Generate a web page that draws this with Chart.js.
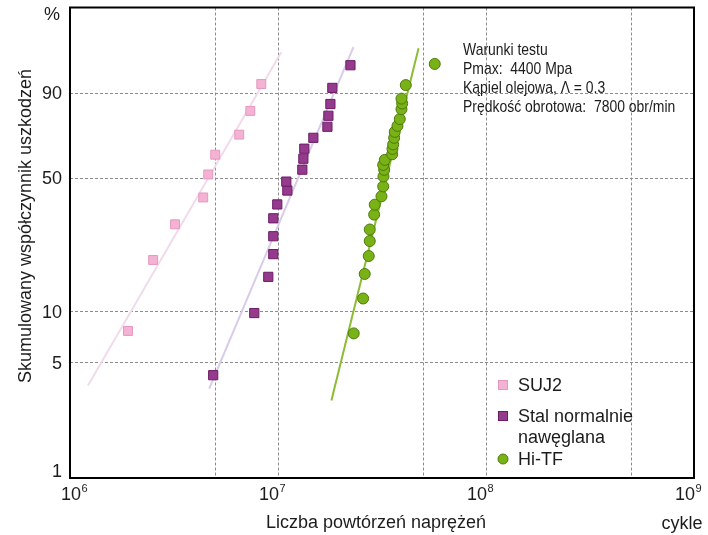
<!DOCTYPE html>
<html>
<head>
<meta charset="utf-8">
<script src="https://cdn.jsdelivr.net/npm/chart.js@4.4.1/dist/chart.umd.min.js"></script>
<style>
  html, body { margin: 0; padding: 0; background: #ffffff; }
  #wrap { width: 708px; height: 535px; position: relative; }
</style>
</head>
<body>
<div id="wrap"><canvas id="c" width="708" height="535"></canvas></div>
<script>
// ---- data (cycles to failure, cumulative failure %) ----
const suj2Cycles = [1.90e6, 2.51e6, 3.20e6, 4.37e6, 4.62e6, 4.99e6, 6.51e6, 7.36e6, 8.31e6];
const suj2Pct    = [7.7, 19.6, 30.3, 41.0, 51.8, 61.9, 72.2, 83.3, 92.7];

const carbCycles = [4.88e6, 7.69e6, 8.98e6, 9.49e6, 9.49e6, 9.49e6, 9.92e6, 1.109e7, 1.096e7,
                    1.309e7, 1.324e7, 1.338e7, 1.479e7, 1.728e7, 1.747e7, 1.786e7, 1.825e7, 2.23e7];
const carbPct    = [4.2, 9.8, 15.8, 21.1, 26.3, 32.5, 38.0, 44.1, 48.3,
                    54.2, 59.8, 65.0, 70.6, 76.1, 81.2, 86.1, 91.6, 96.7];

const hitfCycles = [2.312e7, 2.566e7, 2.612e7, 2.731e7, 2.761e7, 2.761e7, 2.899e7, 2.918e7, 3.144e7,
                    3.204e7, 3.214e7, 3.240e7, 3.204e7, 3.262e7, 3.539e7, 3.551e7, 3.578e7, 3.618e7,
                    3.642e7, 3.753e7, 3.85e7, 3.923e7, 3.954e7, 3.923e7, 4.115e7, 5.67e7];
const hitfPct    = [7.45, 11.9, 16.4, 20.6, 24.8, 28.5, 33.9, 37.9, 41.5,
                    46.0, 50.8, 54.1, 56.6, 59.2, 62.1, 64.9, 67.2, 70.6,
                    73.6, 76.5, 79.7, 84.0, 86.3, 88.1, 92.4, 96.9];

// Weibull fit lines (end points)
const suj2FitCycles = [1.22e6, 1.037e7];
const suj2FitPct    = [3.64, 98.34];
const carbFitCycles = [4.67e6, 2.305e7];
const carbFitPct    = [3.49, 98.77];
const hitfFitCycles = [1.806e7, 4.74e7];
const hitfFitPct    = [2.96, 98.69];

// axis ticks
const xTickValues = [1e6, 5e6, 1e7, 5e7, 1e8, 5e8, 1e9];
const xLabelExps  = [6, 7, 8, 9];
const yTickPct    = [1, 5, 10, 50, 90];
const yMinPct = 1, yMaxPct = 99.955;

const seriesNames = ['SUJ2', 'Stal normalnie nawęglana', 'Hi-TF'];
const annotationLines = ['Warunki testu', 'Pmax:  4400 Mpa', 'Kąpiel olejowa, \u039B = 0.3', 'Prędkość obrotowa:  7800 obr/min'];
const xTitle = 'Liczba powtórzeń naprężeń';
const xUnit = 'cykle';
const yTitle = 'Skumulowany współczynnik uszkodzeń';

// Weibull probability transform
const weib = p => Math.log(-Math.log(1 - p / 100));
const pts = (xs, ps) => xs.map((x, i) => ({ x: x, y: weib(ps[i]) }));

const FONT = '"Liberation Sans", Arial, sans-serif';
const TXT = '#1c1c1c';

const col = {
  suj2: { fill: '#f4b3d3', border: '#e697c0', line: '#f1dbeb' },
  carb: { fill: '#963a8e', border: '#6a1d66', line: '#d9cbe9' },
  hitf: { fill: '#79b216', border: '#4d7a0a', line: '#8cbc35' }
};

const textPlugin = {
  id: 'textPlugin',
  afterDraw(chart) {
    const ctx = chart.ctx;
    const a = chart.chartArea;
    const xs = chart.scales.x, ys = chart.scales.y;
    ctx.save();
    // frame
    ctx.strokeStyle = '#000';
    ctx.lineWidth = 2;
    ctx.strokeRect(a.left, a.top, a.right - a.left, a.bottom - a.top);

    ctx.fillStyle = TXT;
    // y tick labels
    ctx.font = '18px ' + FONT;
    ctx.textAlign = 'right';
    ctx.textBaseline = 'middle';
    yTickPct.forEach(p => {
      let py = ys.getPixelForValue(weib(p));
      py = Math.min(py, a.bottom - 7);
      ctx.fillText(String(p), a.left - 8, py + 1);
    });
    // percent sign
    ctx.textAlign = 'center';
    ctx.fillText('%', 52, 15);

    // x tick labels 10^n
    xLabelExps.forEach((e, i) => {
      const px = xs.getPixelForValue(Math.pow(10, e));
      ctx.font = '18px ' + FONT;
      const w1 = ctx.measureText('10').width;
      ctx.font = '11px ' + FONT;
      const w2 = ctx.measureText(String(e)).width;
      let cx = i === 0 ? px + 4 : px - 6;
      const x0 = cx - (w1 + w2) / 2;
      ctx.textAlign = 'left';
      ctx.textBaseline = 'alphabetic';
      ctx.font = '18px ' + FONT;
      ctx.fillText('10', x0, 500);
      ctx.font = '11px ' + FONT;
      ctx.fillText(String(e), x0 + w1 + 0.5, 492);
    });

    // axis titles
    ctx.font = '18px ' + FONT;
    ctx.textAlign = 'center';
    ctx.textBaseline = 'alphabetic';
    ctx.fillText(xTitle, 376, 528);
    ctx.fillText(xUnit, 682, 529);

    ctx.save();
    ctx.translate(31, 226);
    ctx.rotate(-Math.PI / 2);
    ctx.fillText(yTitle, 0, 0);
    ctx.restore();

    // annotation (condensed face)
    ctx.save();
    ctx.translate(463, 0);
    ctx.scale(0.82, 1);
    ctx.font = '17px ' + FONT;
    ctx.textAlign = 'left';
    ctx.textBaseline = 'alphabetic';
    annotationLines.forEach((t, i) => ctx.fillText(t, 0, 55 + i * 19));
    ctx.restore();

    // legend
    const legendRows = [
      { ds: 0, y: 385, lines: ['SUJ2'] },
      { ds: 1, y: 416, lines: ['Stal normalnie', 'nawęglana'] },
      { ds: 2, y: 459, lines: ['Hi-TF'] }
    ];
    ctx.font = '18px ' + FONT;
    legendRows.forEach(r => {
      const d = chart.data.datasets[r.ds];
      ctx.fillStyle = d.backgroundColor;
      ctx.strokeStyle = d.borderColor;
      ctx.lineWidth = 1;
      if (d.pointStyle === 'circle') {
        ctx.beginPath();
        ctx.arc(503, r.y, 5, 0, Math.PI * 2);
        ctx.fill(); ctx.stroke();
      } else {
        ctx.fillRect(498.5, r.y - 4.5, 9, 9);
        ctx.strokeRect(498.5, r.y - 4.5, 9, 9);
      }
      ctx.fillStyle = TXT;
      ctx.textAlign = 'left';
      ctx.textBaseline = 'middle';
      r.lines.forEach((t, k) => ctx.fillText(t, 518, r.y + 1 + k * 21));
    });
    ctx.restore();
  }
};

const ctx = document.getElementById('c').getContext('2d');
new Chart(ctx, {
  type: 'scatter',
  data: {
    datasets: [
      { label: seriesNames[0], data: pts(suj2Cycles, suj2Pct), pointStyle: 'rect', pointRadius: 6.3,
        backgroundColor: col.suj2.fill, borderColor: col.suj2.border, borderWidth: 1, order: 1 },
      { label: seriesNames[1], data: pts(carbCycles, carbPct), pointStyle: 'rect', pointRadius: 6.5,
        backgroundColor: col.carb.fill, borderColor: col.carb.border, borderWidth: 1, order: 1 },
      { label: seriesNames[2], data: pts(hitfCycles, hitfPct), pointStyle: 'circle', pointRadius: 5.5,
        backgroundColor: col.hitf.fill, borderColor: col.hitf.border, borderWidth: 1, order: 1 },
      { label: 'fit SUJ2', type: 'line', data: pts(suj2FitCycles, suj2FitPct), borderColor: col.suj2.line,
        borderWidth: 2, pointRadius: 0, fill: false, order: 2 },
      { label: 'fit carb', type: 'line', data: pts(carbFitCycles, carbFitPct), borderColor: col.carb.line,
        borderWidth: 2, pointRadius: 0, fill: false, order: 2 },
      { label: 'fit Hi-TF', type: 'line', data: pts(hitfFitCycles, hitfFitPct), borderColor: col.hitf.line,
        borderWidth: 2, pointRadius: 0, fill: false, order: 2 }
    ]
  },
  options: {
    responsive: false,
    animation: false,
    events: [],
    layout: { padding: { left: 70, right: 14, top: 5, bottom: 57 } },
    plugins: { legend: { display: false }, tooltip: { enabled: false }, title: { display: false } },
    scales: {
      x: {
        type: 'logarithmic', min: 1e6, max: 1e9,
        afterBuildTicks: s => { s.ticks = xTickValues.map(v => ({ value: v })); },
        ticks: { display: false },
        grid: {
          drawTicks: false, lineWidth: 1,
          color: c => (c.index === 0 || c.index === xTickValues.length - 1) ? 'rgba(0,0,0,0)' : '#8c8c8c'
        },
        border: { display: false, dash: [3, 2] }
      },
      y: {
        type: 'linear', min: weib(yMinPct), max: weib(yMaxPct),
        afterBuildTicks: s => { s.ticks = yTickPct.map(p => ({ value: weib(p) })); },
        ticks: { display: false },
        grid: {
          drawTicks: false, lineWidth: 1,
          color: c => (c.index === 0) ? 'rgba(0,0,0,0)' : '#8c8c8c'
        },
        border: { display: false, dash: [3, 2] }
      }
    }
  },
  plugins: [textPlugin]
});
</script>
</body>
</html>
